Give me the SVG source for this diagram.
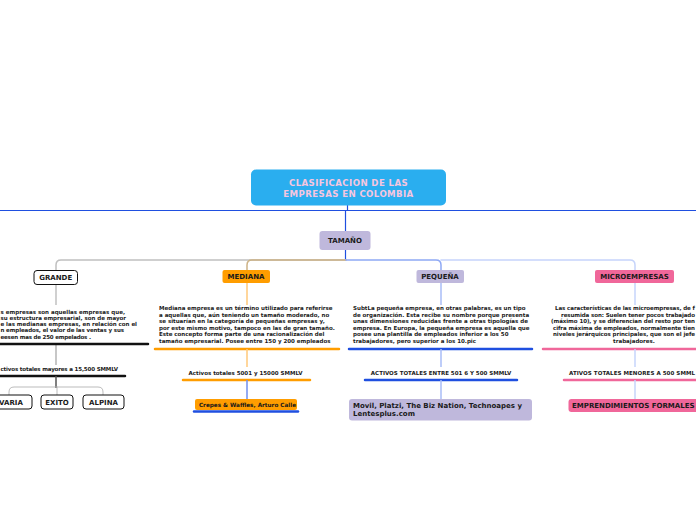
<svg xmlns="http://www.w3.org/2000/svg" width="696" height="520" viewBox="0 0 696 520">
<style>
.t{font-family:"DejaVu Sans","Verdana",sans-serif;font-weight:bold;fill:#1a1a1a}
.p{font-size:5.5px}
.n{font-size:7px}
.c{fill:none;stroke-linecap:round}
</style>
<rect width="696" height="520" fill="#ffffff"/>
<g id="connectors">
  <line x1="0" y1="210.5" x2="696" y2="210.5" stroke="#1f4fe0" stroke-width="1.2"/>
  <line x1="347.5" y1="205" x2="347.5" y2="210" stroke="#1f4fe0" stroke-width="1.2"/>
  <line x1="345.5" y1="210" x2="345.5" y2="231" stroke="#1f4fe0" stroke-width="1.2"/>
  <line x1="345.5" y1="250" x2="345.5" y2="260" stroke="#1f4fe0" stroke-width="1.2"/>
  <path class="c" d="M346,260 H61 Q56,260 56,265 V271" stroke="#c0c0c0" stroke-width="1.5"/>
  <path class="c" d="M346,260 H252 Q247,260 247,265 V270" stroke="#cdb387" stroke-width="1.5"/>
  <path class="c" d="M441,260 H630 Q635,260 635,265 V270" stroke="#c6d4fb" stroke-width="1.5"/>
  <path class="c" d="M346,260 H436 Q441,260 441,265 V270" stroke="#8fa9f5" stroke-width="1.5"/>
  <!-- grande -->
  <line x1="56" y1="285" x2="56" y2="305" stroke="#c0c0c0" stroke-width="1.5"/>
  <line x1="56" y1="344" x2="56" y2="365" stroke="#b5b5b5" stroke-width="1.5"/>
  <line x1="0" y1="344" x2="148" y2="344" stroke="#111" stroke-width="2.5" stroke-linecap="round"/>
  <line x1="0" y1="376" x2="125" y2="376" stroke="#111" stroke-width="2.5" stroke-linecap="round"/>
  <line x1="56" y1="376" x2="56" y2="388" stroke="#555" stroke-width="1.5"/>
  <path class="c" d="M56,387 H14 Q9,387 9,392 V395 M56,387 H98 Q103,387 103,392 V395 M57,387 V395" stroke="#aaa" stroke-width="0.8"/>
  <!-- mediana -->
  <line x1="247" y1="283" x2="247" y2="305" stroke="#ffc97a" stroke-width="1.5"/>
  <line x1="155" y1="349" x2="339" y2="349" stroke="#ff9d00" stroke-width="2.5" stroke-linecap="round"/>
  <line x1="247" y1="349" x2="247" y2="367" stroke="#ffc97a" stroke-width="1.5"/>
  <line x1="183" y1="380" x2="310" y2="380" stroke="#ff9d00" stroke-width="2.5" stroke-linecap="round"/>
  <line x1="247" y1="380" x2="247" y2="399" stroke="#6f8ff0" stroke-width="1.5"/>
  <line x1="194" y1="411.5" x2="298" y2="411.5" stroke="#1f4fe0" stroke-width="2.5" stroke-linecap="round"/>
  <!-- pequeña -->
  <line x1="441" y1="283" x2="441" y2="305" stroke="#a9bdf7" stroke-width="1.5"/>
  <line x1="349" y1="349" x2="532" y2="349" stroke="#1f4fe0" stroke-width="2.5" stroke-linecap="round"/>
  <line x1="441" y1="349" x2="441" y2="367" stroke="#a9bdf7" stroke-width="1.5"/>
  <line x1="365" y1="380" x2="517" y2="380" stroke="#1f4fe0" stroke-width="2.5" stroke-linecap="round"/>
  <line x1="441" y1="380" x2="441" y2="399" stroke="#a9bdf7" stroke-width="1.5"/>
  <!-- micro -->
  <line x1="635" y1="283" x2="635" y2="305" stroke="#c6d4fb" stroke-width="1.5"/>
  <line x1="543" y1="349" x2="698" y2="349" stroke="#f0679a" stroke-width="2.5" stroke-linecap="round"/>
  <line x1="635" y1="349" x2="635" y2="367" stroke="#c6d4fb" stroke-width="1.5"/>
  <line x1="564" y1="380" x2="698" y2="380" stroke="#f0679a" stroke-width="2.5" stroke-linecap="round"/>
  <line x1="635" y1="380" x2="635" y2="399" stroke="#c6d4fb" stroke-width="1.5"/>
</g>

<g id="title">
  <rect x="251" y="169.5" width="195" height="36" rx="5" fill="#2aaeef"/>
  <text class="t" x="348.5" y="186" font-size="8.6" letter-spacing="0.4" text-anchor="middle" style="fill:#f6c6df">CLASIFICACION DE LAS</text>
  <text class="t" x="348.5" y="197" font-size="8.6" letter-spacing="0.4" text-anchor="middle" style="fill:#f6c6df">EMPRESAS EN COLOMBIA</text>
</g>

<g id="tamano">
  <rect x="319.5" y="231" width="51" height="19" rx="3" fill="#bfb8dc"/>
  <text class="t n" x="345" y="243" text-anchor="middle">TAMAÑO</text>
</g>

<g id="grande">
  <rect x="34" y="270.5" width="43.5" height="14" rx="3" fill="#fff" stroke="#111" stroke-width="1"/>
  <text class="t n" x="55.7" y="280" text-anchor="middle">GRANDE</text>
</g>
<g id="grande-text">
  <text class="t p" x="0.5" y="313.5" textLength="124.5">s empresas son aquellas empresas que,</text>
  <text class="t p" x="0.5" y="319.8" textLength="125.5">su estructura empresarial, son de mayor</text>
  <text class="t p" x="0.5" y="326.1" textLength="136.5">e las medianas empresas, en relación con el</text>
  <text class="t p" x="0.5" y="332.4" textLength="123.5">n empleados, el valor de las ventas y sus</text>
  <text class="t p" x="0.5" y="338.7" textLength="90.5">eesen mas de 250 empelados .</text>
</g>
<g id="grande-activos">
  <text class="t p" x="0.5" y="370.5" textLength="117.5">ctivos totales mayores a 15,500 SMMLV</text>
</g>
<g id="varia">
  <rect x="-10" y="395" width="42" height="14" rx="3" fill="#fff" stroke="#111" stroke-width="1"/>
  <text class="t n" x="11" y="404.5" text-anchor="middle">VARIA</text>
</g>
<g id="exito">
  <rect x="41" y="395" width="32" height="14" rx="3" fill="#fff" stroke="#111" stroke-width="1"/>
  <text class="t n" x="57" y="404.5" text-anchor="middle">EXITO</text>
</g>
<g id="alpina">
  <rect x="83" y="395" width="41" height="14" rx="3" fill="#fff" stroke="#111" stroke-width="1"/>
  <text class="t n" x="103.5" y="404.5" text-anchor="middle">ALPINA</text>
</g>

<g id="mediana">
  <rect x="222.5" y="270" width="47.5" height="13" rx="2" fill="#ff9d00"/>
  <text class="t n" x="246" y="279" text-anchor="middle">MEDIANA</text>
</g>
<g id="mediana-text">
  <text class="t p">
    <tspan x="159" y="310">Mediana empresa es un término utilizado para referirse</tspan>
    <tspan x="159" y="316.6">a aquellas que, aún teniendo un tamaño moderado, no</tspan>
    <tspan x="159" y="323.2">se situarían en la categoría de pequeñas empresas y,</tspan>
    <tspan x="159" y="329.8">por este mismo motivo, tampoco en las de gran tamaño.</tspan>
    <tspan x="159" y="336.4">Este concepto forma parte de una racionalización del</tspan>
    <tspan x="159" y="343">tamaño empresarial. Posee entre 150 y 200 empleados</tspan>
  </text>
</g>
<g id="mediana-activos">
  <text class="t p" x="245.5" y="375" text-anchor="middle">Activos totales  5001 y 15000 SMMLV</text>
</g>
<g id="crepes">
  <rect x="195" y="399" width="102" height="11" rx="2" fill="#ff9d00"/>
  <text class="t" font-size="5.7" x="247.5" y="406.5" text-anchor="middle">Crepes &amp; Waffles, Arturo Calle</text>
</g>

<g id="pequena">
  <rect x="416.5" y="270" width="47.5" height="13" rx="2" fill="#bfb8dc"/>
  <text class="t n" x="440" y="279" text-anchor="middle">PEQUEÑA</text>
</g>
<g id="pequena-text">
  <text class="t p">
    <tspan x="353" y="310">SubtLa pequeña empresa, en otras palabras, es un tipo</tspan>
    <tspan x="353" y="316.6">de organización. Esta recibe su nombre porque presenta</tspan>
    <tspan x="353" y="323.2">unas dimensiones reducidas frente a otras tipologías de</tspan>
    <tspan x="353" y="329.8">empresa. En Europa, la pequeña empresa es aquella que</tspan>
    <tspan x="353" y="336.4">posee una plantilla de empleados inferior a los 50</tspan>
    <tspan x="353" y="343">trabajadores, pero superior a los 10.pic</tspan>
  </text>
</g>
<g id="pequena-activos">
  <text class="t p" x="441" y="375" text-anchor="middle">ACTIVOS TOTALES ENTRE 501 6 Y 500 SMMLV</text>
</g>
<g id="movil">
  <rect x="349" y="399" width="183" height="21.5" rx="3" fill="#bfb8dc"/>
  <text class="t" font-size="7">
    <tspan x="353" y="407.5">Movil, Platzi, The Biz Nation, Technoapes y</tspan>
    <tspan x="353" y="416.3">Lentesplus.com</tspan>
  </text>
</g>

<g id="microempresas">
  <rect x="595" y="270" width="79" height="13" rx="2" fill="#f0679a"/>
  <text class="t n" x="634.5" y="279" text-anchor="middle">MICROEMPRESAS</text>
</g>
<g id="micro-text">
  <text class="t p" x="555" y="310" textLength="140">Las características de las microempresas, de f</text>
  <text class="t p" x="561" y="316.6" textLength="134">resumida son: Suelen tener pocos trabajado</text>
  <text class="t p" x="551" y="323.2" textLength="144">(máximo 10), y se diferencian del resto por ten</text>
  <text class="t p" x="553" y="329.8" textLength="142">cifra máxima de empleados, normalmente tien</text>
  <text class="t p" x="553" y="336.4" textLength="142">niveles jerárquicos principales, que son el jefe</text>
  <text class="t p" x="634" y="343" text-anchor="middle">trabajadores.</text>
</g>
<g id="micro-activos">
  <text class="t p" x="569" y="375" textLength="126">ATIVOS TOTALES MENORES A 500 SMML</text>
</g>
<g id="emprendimientos">
  <rect x="568.5" y="399" width="135" height="13" rx="3" fill="#f0679a"/>
  <text class="t n" x="572" y="408">EMPRENDIMIENTOS FORMALES</text>
</g>
</svg>
